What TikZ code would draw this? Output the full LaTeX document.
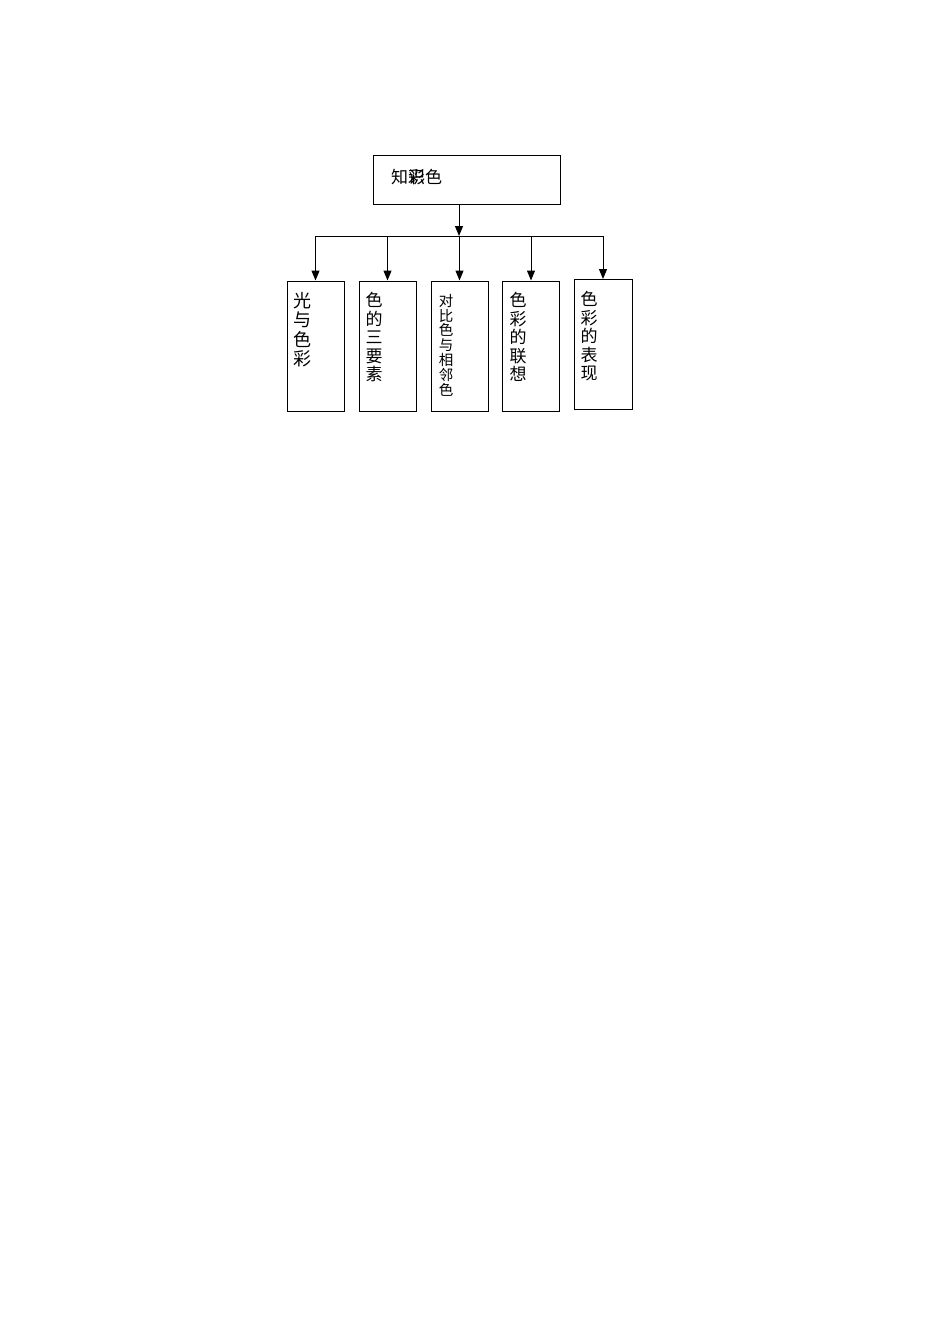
\documentclass[tikz,border=0pt]{standalone}
\usepackage{fontspec}
\newfontfamily\cjk{Noto Sans CJK SC}
\usetikzlibrary{arrows.meta}
\begin{document}
\begin{tikzpicture}[x=1pt,y=-1pt,
  box/.style={draw,line width=1pt,minimum width=57pt,minimum height=130pt,inner sep=0pt},
  vtext/.style={font=\cjk\fontsize{17}{18.6}\selectfont,align=center,inner sep=0pt,anchor=north},
  arr/.style={line width=1pt,-{Triangle[length=10pt,width=8pt]}}]
\useasboundingbox[fill=white] (0,0) rectangle (950,1344);
% top box
\node[draw,line width=1pt,minimum width=187pt,minimum height=49pt,inner sep=0pt] (top) at (466.5,179.5) {};
\node[font=\cjk\fontsize{17}{17}\selectfont,anchor=west,inner sep=0pt] (title) at (391,177) {知\rlap{识}彩色};
% junction
\coordinate (j) at (459,236);
\coordinate (jl) at (316,236);
\coordinate (jr) at (603,236);
% lower boxes
\node[box] (b1) at (315.5,346) {};
\node[box] (b2) at (387.5,346) {};
\node[box] (b3) at (459.5,346) {};
\node[box] (b4) at (531,346) {};
\node[box,minimum width=58pt] (b5) at (603,344.5) {};
% vertical texts
\node[vtext,font=\cjk\fontsize{18}{19.5}\selectfont] (t1) at (302,292) {光\\与\\色\\彩};
\node[vtext] (t2) at (374,292) {色\\的\\三\\要\\素};
\node[vtext,font=\cjk\fontsize{14.5}{14.8}\selectfont] (t3) at (446,294) {对\\比\\色\\与\\相\\邻\\色};
\node[vtext] (t4) at (518,292) {色\\彩\\的\\联\\想};
\node[vtext] (t5) at (589,291) {色\\彩\\的\\表\\现};
% connectors
\draw[arr] (top.south -| j) -- (j);
\draw[line width=1pt] (jl) -- (jr);
\draw[arr] (b1.north |- jl) -- (b1.north);
\draw[arr] (b2.north |- jl) -- (b2.north);
\draw[arr] (b3.north |- jl) -- (b3.north);
\draw[arr] (b4.north |- jl) -- (b4.north);
\draw[arr] (b5.north |- jl) -- (b5.north);
\end{tikzpicture}
\end{document}
